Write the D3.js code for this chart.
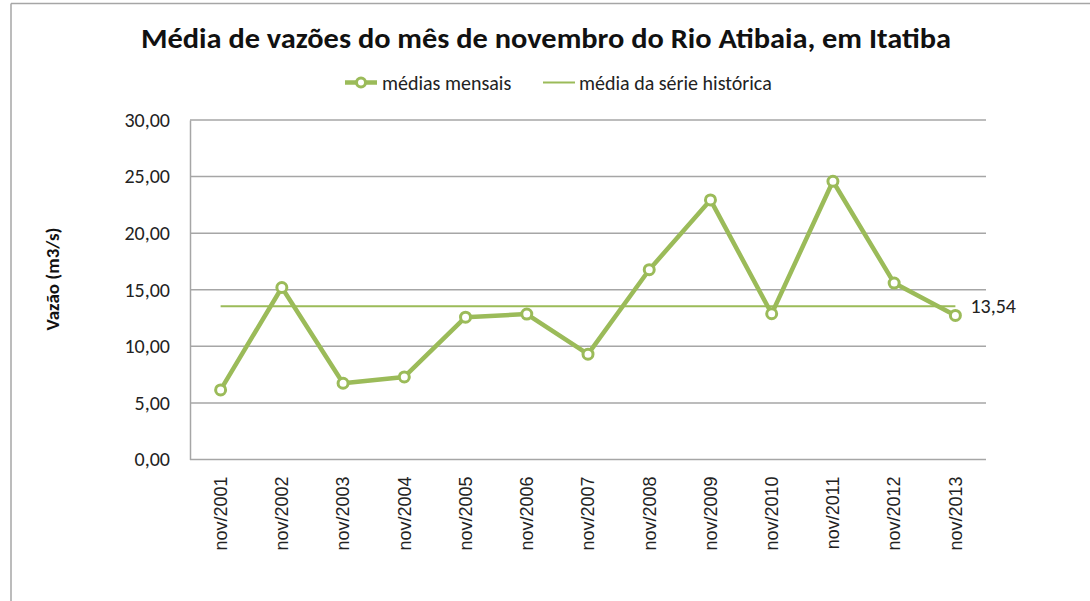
<!DOCTYPE html>
<html>
<head>
<meta charset="utf-8">
<script src="https://cdn.jsdelivr.net/npm/d3@7"></script>
<style>
  body { margin: 0; background: #fff; }
  svg { display: block; }
</style>
</head>
<body>
<div id="chart"></div>
<script>
// values
var meses = ["nov/2001", "nov/2002", "nov/2003", "nov/2004", "nov/2005", "nov/2006", "nov/2007",
  "nov/2008", "nov/2009", "nov/2010", "nov/2011", "nov/2012", "nov/2013"];
var mediasMensais = [6.15, 15.2, 6.74, 7.30, 12.58, 12.85, 9.31, 16.77, 22.94, 12.88, 24.59, 15.59, 12.73];
var mediaHistorica = [13.54, 13.54, 13.54, 13.54, 13.54, 13.54, 13.54, 13.54, 13.54, 13.54, 13.54, 13.54, 13.54];
var yTicks = [0, 5, 10, 15, 20, 25, 30];

var verde = "#9bbb59";
var fonte = "Carlito, Calibri, Lato, sans-serif";

var W = 1090, H = 601;
var margin = { top: 120, right: 104, bottom: 141.5, left: 190 };

var svg = d3.select("#chart").append("svg")
  .attr("width", W)
  .attr("height", H);

// chart border (top and left only visible)
svg.append("line").attr("x1", 11).attr("x2", W).attr("y1", 3.5).attr("y2", 3.5)
  .attr("stroke", "#a6a6a6").attr("stroke-width", 1.5);
svg.append("line").attr("x1", 11).attr("x2", 11).attr("y1", 3.5).attr("y2", H)
  .attr("stroke", "#a6a6a6").attr("stroke-width", 1.5);

var x = d3.scaleBand().domain(meses).range([margin.left, W - margin.right]).padding(0);
var cx = function (d) { return x(d) + x.bandwidth() / 2; };
var y = d3.scaleLinear().domain([0, 30]).range([H - margin.bottom, margin.top]);

// gridlines
svg.append("g")
  .selectAll("line")
  .data(yTicks)
  .enter()
  .append("line")
  .attr("x1", margin.left)
  .attr("x2", W - margin.right)
  .attr("y1", function (d) { return y(d); })
  .attr("y2", function (d) { return y(d); })
  .attr("stroke", "#a6a6a6")
  .attr("stroke-width", 1.5);

// y axis
var yAxis = svg.append("g")
  .attr("transform", "translate(" + margin.left + ",0)")
  .call(d3.axisLeft(y).tickValues(yTicks).tickSize(0).tickPadding(20)
    .tickFormat(function (d) { return d3.format(".2f")(d).replace(".", ","); }));
yAxis.select(".domain").attr("stroke", "#a6a6a6").attr("stroke-width", 1.5);
yAxis.selectAll("text")
  .style("font-family", fonte)
  .style("font-size", "20px")
  .attr("fill", "#222");

// x axis
var xAxis = svg.append("g")
  .attr("transform", "translate(0," + y(0) + ")")
  .call(d3.axisBottom(x).tickSize(0));
xAxis.select(".domain").remove();
xAxis.selectAll("text")
  .attr("transform", "rotate(-90)")
  .attr("x", -17)
  .attr("y", 0)
  .attr("dy", "0.35em")
  .style("text-anchor", "end")
  .style("font-family", "'Liberation Sans', Arial, sans-serif")
  .style("font-size", "18px")
  .attr("fill", "#222");

// historic mean line
svg.append("path")
  .datum(mediaHistorica)
  .attr("fill", "none")
  .attr("stroke", verde)
  .attr("stroke-width", 2)
  .attr("d", d3.line()
    .x(function (d, i) { return cx(meses[i]); })
    .y(function (d) { return y(d); }));

svg.append("text")
  .attr("x", cx(meses[meses.length - 1]) + 15)
  .attr("y", y(mediaHistorica[mediaHistorica.length - 1]))
  .attr("dy", "0.35em")
  .style("font-family", fonte)
  .style("font-size", "20px")
  .attr("fill", "#222")
  .text(d3.format(".2f")(mediaHistorica[mediaHistorica.length - 1]).replace(".", ","));

// monthly means
svg.append("path")
  .datum(mediasMensais)
  .attr("fill", "none")
  .attr("stroke", verde)
  .attr("stroke-width", 4.5)
  .attr("stroke-linejoin", "round")
  .attr("d", d3.line()
    .x(function (d, i) { return cx(meses[i]); })
    .y(function (d) { return y(d); }));

svg.append("g")
  .selectAll("circle")
  .data(mediasMensais)
  .enter()
  .append("circle")
  .attr("cx", function (d, i) { return cx(meses[i]); })
  .attr("cy", function (d) { return y(d); })
  .attr("r", 5)
  .attr("fill", "#fff")
  .attr("stroke", verde)
  .attr("stroke-width", 3);

// title
svg.append("text")
  .attr("x", 546)
  .attr("y", 48)
  .attr("text-anchor", "middle")
  .attr("textLength", 810)
  .attr("lengthAdjust", "spacingAndGlyphs")
  .style("font-family", fonte)
  .style("font-size", "28px")
  .style("font-weight", "bold")
  .attr("fill", "#111")
  .text("Média de vazões do mês de novembro do Rio Atibaia, em Itatiba");

// y axis title
svg.append("text")
  .attr("transform", "translate(59,279) rotate(-90)")
  .attr("text-anchor", "middle")
  .style("font-family", fonte)
  .style("font-size", "19px")
  .style("font-weight", "bold")
  .attr("fill", "#111")
  .text("Vazão (m3/s)");

// legend
var legenda = svg.append("g");
legenda.append("line")
  .attr("x1", 345).attr("x2", 377).attr("y1", 82.5).attr("y2", 82.5)
  .attr("stroke", verde).attr("stroke-width", 4.5);
legenda.append("circle")
  .attr("cx", 361).attr("cy", 82.5).attr("r", 4.5)
  .attr("fill", "#fff").attr("stroke", verde).attr("stroke-width", 3);
legenda.append("text")
  .attr("x", 382).attr("y", 82.5).attr("dy", "0.35em")
  .style("font-family", fonte).style("font-size", "20px").attr("fill", "#222")
  .text("médias mensais");
legenda.append("line")
  .attr("x1", 543).attr("x2", 575).attr("y1", 82.5).attr("y2", 82.5)
  .attr("stroke", verde).attr("stroke-width", 2);
legenda.append("text")
  .attr("x", 579).attr("y", 82.5).attr("dy", "0.35em")
  .style("font-family", fonte).style("font-size", "20px").attr("fill", "#222")
  .text("média da série histórica");
</script>
</body>
</html>
